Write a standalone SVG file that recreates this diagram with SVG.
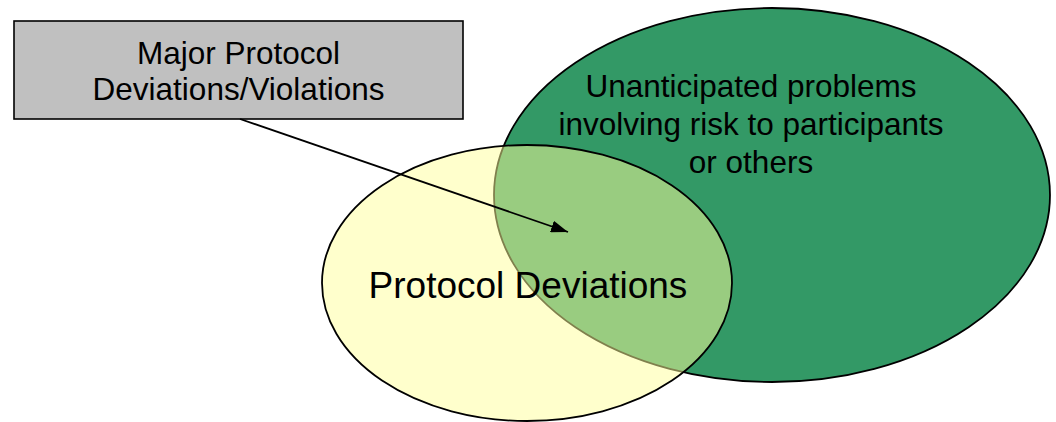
<svg xmlns="http://www.w3.org/2000/svg" width="1056" height="422" viewBox="0 0 1056 422">
  <style>
    .lbl { font-family: "Liberation Sans", Arial, sans-serif; fill: #000; text-anchor: middle; }
    .set { stroke: #000; stroke-width: 1.8; }
  </style>
  <defs>
    <marker id="arrow" viewBox="0 0 10 10" refX="10" refY="5" markerWidth="17" markerHeight="12" markerUnits="userSpaceOnUse" orient="auto" preserveAspectRatio="none">
      <path d="M0,0 L10,5 L0,10 Z" fill="#000"/>
    </marker>
  </defs>
  <rect width="1056" height="422" fill="#fff"/>

  <!-- Unanticipated problems set -->
  <g id="unanticipated">
    <ellipse class="set" cx="772" cy="195" rx="278" ry="187" fill="#339966"/>
    <text class="lbl" font-size="31.5" x="751" y="97">Unanticipated problems</text>
    <text class="lbl" font-size="31.5" x="751" y="135">involving risk to participants</text>
    <text class="lbl" font-size="31.5" x="751" y="173">or others</text>
  </g>

  <!-- Protocol deviations set, half-transparent so the overlap shows -->
  <g id="deviations">
    <ellipse class="set" cx="527" cy="283" rx="205" ry="138" fill="#ffff99" fill-opacity="0.5"/>
    <text class="lbl" font-size="37" x="528" y="298">Protocol Deviations</text>
  </g>

  <!-- Callout box -->
  <g id="major">
    <rect x="14" y="21" width="449" height="98" fill="#c0c0c0" stroke="#000" stroke-width="1.6"/>
    <text class="lbl" font-size="31.5" x="238.5" y="64">Major Protocol</text>
    <text class="lbl" font-size="31.5" x="238.5" y="100">Deviations/Violations</text>
  </g>

  <g id="connectors">
    <line x1="240" y1="119" x2="568" y2="232" stroke="#000" stroke-width="1.8" marker-end="url(#arrow)"/>
  </g>
</svg>
